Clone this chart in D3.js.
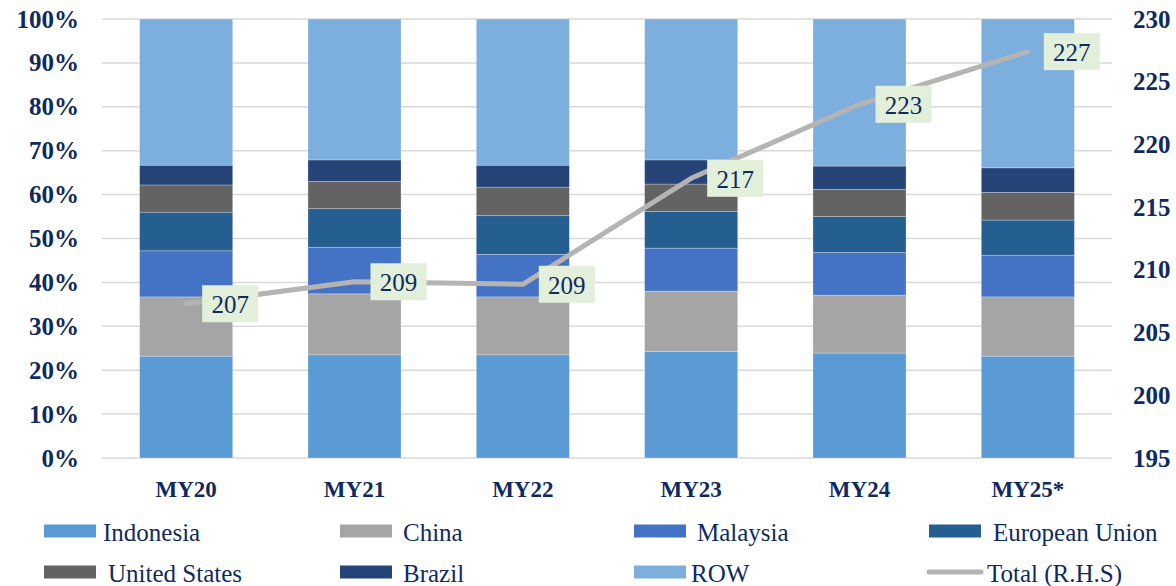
<html>

<head>
  <script src="https://cdn.jsdelivr.net/npm/d3@7"></script>
  <style>
    body { margin: 0; background: #fff; }
    text { font-family: "Liberation Serif", serif; fill: #0f2a5f; }
  </style>
  <script>
    // crop years and share of each origin (% of total), plus total (R.H.S)
    var years = ["MY20", "MY21", "MY22", "MY23", "MY24", "MY25*"];
    var indonesia = [23.2, 23.5, 23.5, 24.3, 23.9, 23.2];
    var china = [13.5, 13.9, 13.2, 13.7, 13.2, 13.5];
    var malaysia = [10.5, 10.6, 9.7, 9.8, 9.7, 9.5];
    var eu = [8.8, 8.8, 8.8, 8.4, 8.2, 8.0];
    var us = [6.2, 6.2, 6.5, 6.2, 6.2, 6.3];
    var brazil = [4.5, 4.9, 5.0, 5.5, 5.3, 5.6];
    var row = [33.3, 32.1, 33.3, 32.1, 33.5, 33.9];
    var total = [207.3, 209.05, 208.85, 217.3, 223.2, 227.4];
    var totalLabels = ["207", "209", "209", "217", "223", "227"];
    var leftTicks = [0, 10, 20, 30, 40, 50, 60, 70, 80, 90, 100];
    var rightTicks = [195, 200, 205, 210, 215, 220, 225, 230];

    window.onload = function () {
      var series = [
        { key: "Indonesia", values: indonesia, color: "#5b9bd5" },
        { key: "China", values: china, color: "#a5a5a5" },
        { key: "Malaysia", values: malaysia, color: "#4472c4" },
        { key: "European Union", values: eu, color: "#255e91" },
        { key: "United States", values: us, color: "#636363" },
        { key: "Brazil", values: brazil, color: "#264478" },
        { key: "ROW", values: row, color: "#7cafdd" }
      ];

      var svg = d3.select("body").append("svg").attr("width", 1176).attr("height", 586);

      var x = d3.scaleBand().domain(years).range([102, 1112]).paddingInner(0.447).paddingOuter(0.2235);
      var y = d3.scaleLinear().domain([0, 100]).range([458, 19]);
      var y2 = d3.scaleLinear().domain([195, 230]).range([458, 19]);

      // gridlines
      svg.append("g").selectAll("line").data(leftTicks).enter().append("line")
        .attr("x1", 102).attr("x2", 1112)
        .attr("y1", function (d) { return y(d); })
        .attr("y2", function (d) { return y(d); })
        .attr("stroke", "#d9d9d9").attr("stroke-width", 1.5);

      // stacked bars
      var table = years.map(function (yr, i) {
        var o = { year: yr };
        series.forEach(function (s) { o[s.key] = s.values[i]; });
        return o;
      });
      var stacked = d3.stack().keys(series.map(function (s) { return s.key; }))(table);

      svg.append("g").selectAll("g").data(stacked).enter().append("g")
        .attr("fill", function (d, i) { return series[i].color; })
        .selectAll("rect").data(function (d) { return d; }).enter().append("rect")
        .attr("x", function (d) { return x(d.data.year); })
        .attr("width", x.bandwidth())
        .attr("y", function (d) { return y(d[1]); })
        .attr("height", function (d) { return y(d[0]) - y(d[1]); })
        .attr("stroke", "#ffffff").attr("stroke-opacity", 0.35).attr("stroke-width", 0.75);

      // total line
      var cx = function (d, i) { return x(years[i]) + x.bandwidth() / 2; };
      var line = d3.line().x(cx).y(function (d) { return y2(d); });
      svg.append("path").datum(total)
        .attr("d", line)
        .attr("fill", "none")
        .attr("stroke", "#b4b4b4")
        .attr("stroke-width", 5)
        .attr("stroke-linecap", "round")
        .attr("stroke-linejoin", "round");

      // data labels
      var lab = svg.append("g").selectAll("g").data(total).enter().append("g")
        .attr("transform", function (d, i) { return "translate(" + (cx(d, i) + 16) + "," + y2(d) + ")"; });
      lab.append("rect")
        .attr("x", 0).attr("y", -18.5).attr("width", 56).attr("height", 37)
        .attr("fill", "#e2efda");
      lab.append("text")
        .attr("x", 28).attr("y", 1)
        .attr("text-anchor", "middle").attr("dominant-baseline", "central")
        .style("font-size", "25px")
        .text(function (d, i) { return totalLabels[i]; });

      // left axis labels
      svg.append("g").selectAll("text").data(leftTicks).enter().append("text")
        .attr("x", 79).attr("y", function (d) { return y(d); })
        .attr("text-anchor", "end").attr("dominant-baseline", "central")
        .style("font-size", "25px").style("font-weight", "bold")
        .text(function (d) { return d + "%"; });

      // right axis labels
      svg.append("g").selectAll("text").data(rightTicks).enter().append("text")
        .attr("x", 1133).attr("y", function (d) { return y2(d); })
        .attr("dominant-baseline", "central")
        .style("font-size", "25px").style("font-weight", "bold")
        .text(function (d) { return d; });

      // category labels
      svg.append("g").selectAll("text").data(years).enter().append("text")
        .attr("x", function (d) { return x(d) + x.bandwidth() / 2; })
        .attr("y", 497)
        .attr("text-anchor", "middle")
        .style("font-size", "23px").style("font-weight", "bold")
        .text(function (d) { return d; });

      // legend
      var legend = [
        { key: "Indonesia", sx: 44, tx: 103, cy: 531 },
        { key: "China", sx: 340, tx: 403, cy: 531 },
        { key: "Malaysia", sx: 634, tx: 697, cy: 531 },
        { key: "European Union", sx: 929, tx: 993, cy: 531 },
        { key: "United States", sx: 44, tx: 108, cy: 572 },
        { key: "Brazil", sx: 340, tx: 403, cy: 572 },
        { key: "ROW", sx: 634, tx: 691, cy: 572 }
      ];
      var lg = svg.append("g");
      legend.forEach(function (l) {
        var s = series.filter(function (d) { return d.key === l.key; })[0];
        lg.append("rect").attr("x", l.sx).attr("y", l.cy - 6.5).attr("width", 52).attr("height", 13).attr("fill", s.color);
        lg.append("text").attr("x", l.tx).attr("y", l.cy + 1).attr("dominant-baseline", "central")
          .style("font-size", "25px").text(l.key);
      });
      lg.append("line").attr("x1", 929).attr("x2", 981).attr("y1", 572).attr("y2", 572)
        .attr("stroke", "#b4b4b4").attr("stroke-width", 5).attr("stroke-linecap", "round");
      lg.append("text").attr("x", 987).attr("y", 573).attr("dominant-baseline", "central")
        .style("font-size", "25px").text("Total (R.H.S)");
    };
  </script>
</head>

<body>
</body>

</html>
